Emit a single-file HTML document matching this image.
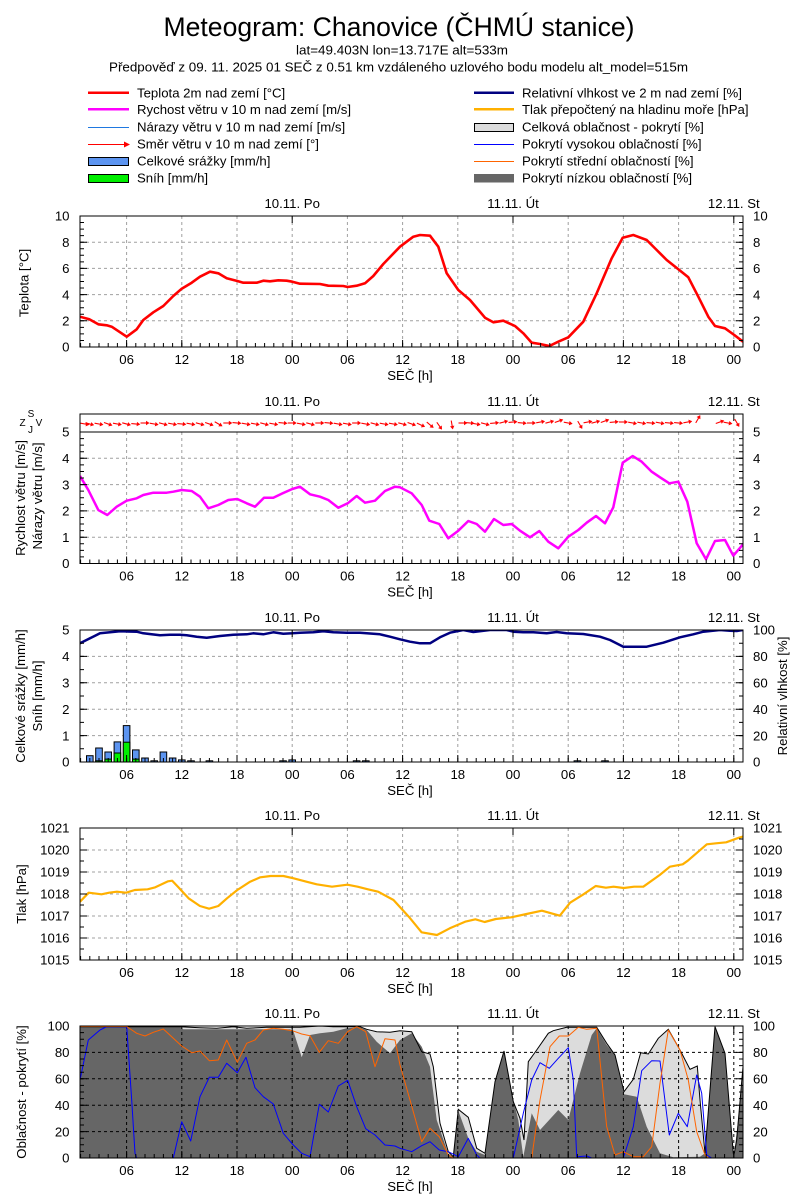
<!DOCTYPE html>
<html><head><meta charset="utf-8"><style>
html,body{margin:0;padding:0;background:#fff;}
svg{display:block;}
text{font-family:"Liberation Sans",Arial,sans-serif;fill:#000;}
</style></head><body>
<svg width="800" height="1200" viewBox="0 0 800 1200" xmlns="http://www.w3.org/2000/svg" font-size="13.2">
<defs>
<clipPath id="c1"><rect x="80" y="216" width="663" height="131"/></clipPath>
<clipPath id="c2"><rect x="80" y="432" width="663" height="131.5"/></clipPath>
<clipPath id="c2s"><rect x="80" y="414" width="663" height="18"/></clipPath>
<clipPath id="c3"><rect x="80" y="630" width="663" height="132"/></clipPath>
<clipPath id="c4"><rect x="80" y="828" width="663" height="132"/></clipPath>
<clipPath id="c5"><rect x="80" y="1026" width="663" height="132"/></clipPath>
<g id="ar"><path d="M-4.5,0H3.5" stroke="#f00" stroke-width="1.1" fill="none"/><path d="M4.5,0L1,-2.2L1,2.2Z" fill="#f00"/></g>
</defs>

<!-- Title -->
<text x="399" y="36" font-size="26.5" text-anchor="middle" textLength="471" lengthAdjust="spacingAndGlyphs">Meteogram: Chanovice (ČHMÚ stanice)</text>
<text x="402" y="54.5" text-anchor="middle" font-size="13.2" textLength="212" lengthAdjust="spacingAndGlyphs">lat=49.403N lon=13.717E alt=533m</text>
<text x="398.5" y="71.5" text-anchor="middle" font-size="13.2" textLength="579" lengthAdjust="spacingAndGlyphs">Předpověď z 09. 11. 2025 01 SEČ z 0.51 km vzdáleného uzlového bodu modelu alt_model=515m</text>

<!-- Legend -->
<line x1="88" y1="92.7" x2="129" y2="92.7" stroke="#f00" stroke-width="2.5"/>
<text x="137" y="97.4">Teplota 2m nad zemí [°C]</text>
<line x1="88" y1="109.3" x2="129" y2="109.3" stroke="#f0f" stroke-width="2.5"/>
<text x="137" y="114">Rychost větru v 10 m nad zemí [m/s]</text>
<line x1="88" y1="127.5" x2="129" y2="127.5" stroke="#1f78e0" stroke-width="1"/>
<text x="137" y="131.7">Nárazy větru v 10 m nad zemí [m/s]</text>
<line x1="88" y1="144.5" x2="126" y2="144.5" stroke="#f00" stroke-width="1"/>
<path d="M130,144.5L124,141.5L124,147.5Z" fill="#f00"/>
<text x="137" y="148.7">Směr větru v 10 m nad zemí [°]</text>
<rect x="88.5" y="157.5" width="40" height="8" fill="#5c94f0" stroke="#000" stroke-width="1"/>
<text x="137" y="165.7">Celkové srážky [mm/h]</text>
<rect x="88.5" y="174.5" width="40" height="8" fill="#00ee00" stroke="#000" stroke-width="1"/>
<text x="137" y="182.4">Sníh [mm/h]</text>

<line x1="474" y1="92.7" x2="514" y2="92.7" stroke="#000080" stroke-width="2.5"/>
<text x="522" y="97.4">Relativní vlhkost ve 2 m nad zemí [%]</text>
<line x1="474" y1="109.3" x2="514" y2="109.3" stroke="#ffb000" stroke-width="2.5"/>
<text x="522" y="114">Tlak přepočtený na hladinu moře [hPa]</text>
<rect x="474.5" y="123.5" width="39" height="8" fill="#dcdcdc" stroke="#000" stroke-width="1"/>
<text x="522" y="131.7">Celková oblačnost - pokrytí [%]</text>
<line x1="474" y1="144.5" x2="514" y2="144.5" stroke="#0000ff" stroke-width="1"/>
<text x="522" y="148.7">Pokrytí vysokou oblačností [%]</text>
<line x1="474" y1="161.5" x2="514" y2="161.5" stroke="#ff6400" stroke-width="1"/>
<text x="522" y="165.7">Pokrytí střední oblačností [%]</text>
<rect x="474" y="174" width="40" height="8.5" fill="#666"/>
<text x="522" y="182.4">Pokrytí nízkou oblačností [%]</text>

<!-- ================= PANEL 1 ================= -->
<g stroke="#a0a0a0" stroke-width="1" stroke-dasharray="3,3" fill="none">
<path d="M126.6 216V347M181.8 216V347M237 216V347M292.2 216V347M347.4 216V347M402.6 216V347M457.8 216V347M513 216V347M568.2 216V347M623.4 216V347M678.6 216V347M733.8 216V347"/>
<path d="M80 320.8H743M80 294.6H743M80 268.4H743M80 242.2H743"/>
</g>
<polyline clip-path="url(#c1)" fill="none" stroke="#f00" stroke-width="2.6" stroke-linejoin="round" points="80,316.7 89.3,319.3 98.3,324.3 106.7,325.3 111.7,326.7 126.7,336.7 136.7,329.3 143.3,320 153.3,312.3 163.3,306 173.3,296 181.7,288.7 191.7,282.7 200,276.7 210,271.7 218.3,273.3 226.7,278.3 237.3,281 243.3,282.7 256.7,282.7 263.3,280.7 270,281.3 278.3,280.3 286.7,280.7 292.3,281.7 300,283.7 320,284 328.3,285.7 343.3,286 347.7,287 356.7,285.7 365,283.3 373.3,276 383.3,264 400,246.7 413.3,236.7 420,235 430,235.7 438.3,246.7 446.7,273.3 458.3,290 470,300 485,317.7 493.3,322.3 503.3,320.7 515,326 523.3,333.3 531.7,342.7 540,344 549.3,346 558.3,341.7 568.3,337.3 583.3,321.7 596.7,293.3 611.7,258.3 622.7,237.7 633.3,235 646.7,240 656.7,250 666.7,260 679.3,270 688.3,277.3 698.3,296.7 708.3,316.7 715,326 725,328.3 734.3,335 743,341.7"/>
<rect x="80" y="216" width="663" height="131" fill="none" stroke="#000" stroke-width="1"/>
<g stroke="#000" fill="none">
<line x1="80.1" y1="345" x2="743" y2="345" stroke-width="4" stroke-dasharray="1 8.2"/>
<line x1="126.1" y1="343.5" x2="743" y2="343.5" stroke-width="7" stroke-dasharray="1 54.2"/>
<path d="M292.2 216v7M513 216v7M733.8 216v7" stroke-width="1"/>
<line x1="82" y1="347.5" x2="82" y2="215" stroke-width="4" stroke-dasharray="1 5.55"/>
<line x1="83.5" y1="347.5" x2="83.5" y2="215" stroke-width="7" stroke-dasharray="1 25.2"/>
<line x1="741" y1="347.5" x2="741" y2="215" stroke-width="4" stroke-dasharray="1 5.55"/>
<line x1="739.5" y1="347.5" x2="739.5" y2="215" stroke-width="7" stroke-dasharray="1 25.2"/>
</g>
<g text-anchor="end">
<text x="69.5" y="351.7">0</text><text x="69.5" y="325.5">2</text><text x="69.5" y="299.3">4</text><text x="69.5" y="273.1">6</text><text x="69.5" y="246.9">8</text><text x="69.5" y="220.7">10</text>
</g>
<g>
<text x="753" y="351.7">0</text><text x="753" y="325.5">2</text><text x="753" y="299.3">4</text><text x="753" y="273.1">6</text><text x="753" y="246.9">8</text><text x="753" y="220.7">10</text>
</g>
<g text-anchor="middle">
<text x="126.6" y="364">06</text><text x="181.8" y="364">12</text><text x="237" y="364">18</text><text x="292.2" y="364">00</text><text x="347.4" y="364">06</text><text x="402.6" y="364">12</text><text x="457.8" y="364">18</text><text x="513" y="364">00</text><text x="568.2" y="364">06</text><text x="623.4" y="364">12</text><text x="678.6" y="364">18</text><text x="733.8" y="364">00</text>
<text x="410" y="380">SEČ [h]</text>
<text x="292.2" y="208">10.11. Po</text><text x="513" y="208">11.11. Út</text><text x="733.8" y="208">12.11. St</text>
<text transform="translate(24,283) rotate(-90)" dominant-baseline="central">Teplota [°C]</text>
</g>

<!-- ================= PANEL 2 ================= -->
<g stroke="#a0a0a0" stroke-width="1" stroke-dasharray="3,3" fill="none">
<path d="M126.6 432V563.5M181.8 432V563.5M237 432V563.5M292.2 432V563.5M347.4 432V563.5M402.6 432V563.5M457.8 432V563.5M513 432V563.5M568.2 432V563.5M623.4 432V563.5M678.6 432V563.5M733.8 432V563.5"/>
<path d="M80 537.2H743M80 510.9H743M80 484.6H743M80 458.3H743"/>
</g>
<polyline clip-path="url(#c2)" fill="none" stroke="#f0f" stroke-width="2.5" stroke-linejoin="round" points="80,476 88.3,490 98.3,510 107.3,515 116.7,506.7 126.7,500.7 136.7,498.3 143.3,495 153.3,492.7 166.7,492.7 173.3,491.7 181.7,490 191.7,491 200,496.7 208.3,508.3 218.3,505 228.3,500 237.3,499 246.7,503.3 255,506.7 264,497.7 273.3,497.7 282.7,493.3 292.3,489 300,486.7 310,494.3 320,496.7 328.3,500 338.3,507.7 347.7,503.3 356.7,496 365,502.7 375,500.7 385,491 395,486.7 400,487.3 411.7,493.3 421.7,505 429.3,520.7 439.3,524 448.3,538.3 458.3,530.7 468.3,521 476.7,524 485,531.7 494,519 503.3,525 511.7,524 520,530.7 530,537.3 539.3,531 548.3,541.7 558.3,548.3 568.3,536.7 578.3,530 586.7,522.7 596,516 605,523.3 613.3,507.3 622.7,462.7 632.7,456 641.7,461.7 651.7,471.7 660,477.3 669.3,483.3 678.3,481.7 687.3,501.7 696.7,543.3 706,559.3 715,541 725,540 733.3,555.7 743.3,544"/>
<!-- wind direction arrows -->
<g clip-path="url(#c2s)">
<use href="#ar" transform="translate(85,424) rotate(10)"/>
<use href="#ar" transform="translate(89.8,424) rotate(15)"/>
<use href="#ar" transform="translate(99,424) rotate(10)"/>
<use href="#ar" transform="translate(108.2,424) rotate(20)"/>
<use href="#ar" transform="translate(117.4,424) rotate(10)"/>
<use href="#ar" transform="translate(126.6,424) rotate(15)"/>
<use href="#ar" transform="translate(135.8,424) rotate(5)"/>
<use href="#ar" transform="translate(145,423) rotate(0)"/>
<use href="#ar" transform="translate(154.2,424) rotate(10)"/>
<use href="#ar" transform="translate(163.4,424) rotate(15)"/>
<use href="#ar" transform="translate(172.6,424) rotate(10)"/>
<use href="#ar" transform="translate(181.8,424) rotate(5)"/>
<use href="#ar" transform="translate(191,424) rotate(10)"/>
<use href="#ar" transform="translate(200.2,424) rotate(15)"/>
<use href="#ar" transform="translate(209.4,424) rotate(20)"/>
<use href="#ar" transform="translate(218.6,424) rotate(30)"/>
<use href="#ar" transform="translate(227.8,423) rotate(0)"/>
<use href="#ar" transform="translate(237,423) rotate(5)"/>
<use href="#ar" transform="translate(246.2,424) rotate(10)"/>
<use href="#ar" transform="translate(255.4,424) rotate(10)"/>
<use href="#ar" transform="translate(264.6,424) rotate(15)"/>
<use href="#ar" transform="translate(273.8,424) rotate(10)"/>
<use href="#ar" transform="translate(283,423) rotate(5)"/>
<use href="#ar" transform="translate(292.2,423) rotate(0)"/>
<use href="#ar" transform="translate(301.4,424) rotate(10)"/>
<use href="#ar" transform="translate(310.6,424) rotate(15)"/>
<use href="#ar" transform="translate(319.8,423) rotate(0)"/>
<use href="#ar" transform="translate(329,423) rotate(5)"/>
<use href="#ar" transform="translate(338.2,424) rotate(10)"/>
<use href="#ar" transform="translate(347.4,424) rotate(10)"/>
<use href="#ar" transform="translate(356.6,423) rotate(0)"/>
<use href="#ar" transform="translate(365.8,424) rotate(10)"/>
<use href="#ar" transform="translate(375,424) rotate(15)"/>
<use href="#ar" transform="translate(384.2,424) rotate(10)"/>
<use href="#ar" transform="translate(393.4,424) rotate(10)"/>
<use href="#ar" transform="translate(402.6,424) rotate(15)"/>
<use href="#ar" transform="translate(411.8,424) rotate(20)"/>
<use href="#ar" transform="translate(421,425) rotate(25)"/>
<use href="#ar" transform="translate(430.2,425) rotate(40)"/>
<use href="#ar" transform="translate(439.4,426) rotate(55)"/>
<use href="#ar" transform="translate(452,425) rotate(80)"/>
<use href="#ar" transform="translate(463,423) rotate(0)"/>
<use href="#ar" transform="translate(470,423) rotate(5)"/>
<use href="#ar" transform="translate(476.2,424) rotate(10)"/>
<use href="#ar" transform="translate(485.4,424) rotate(15)"/>
<use href="#ar" transform="translate(494.6,423) rotate(-5)"/>
<use href="#ar" transform="translate(503.8,422) rotate(-15)"/>
<use href="#ar" transform="translate(513,422) rotate(-5)"/>
<use href="#ar" transform="translate(522.2,423) rotate(5)"/>
<use href="#ar" transform="translate(531.4,423) rotate(0)"/>
<use href="#ar" transform="translate(540.6,422) rotate(-10)"/>
<use href="#ar" transform="translate(549.8,422) rotate(-15)"/>
<use href="#ar" transform="translate(559,421) rotate(-20)"/>
<use href="#ar" transform="translate(568.2,423) rotate(10)"/>
<use href="#ar" transform="translate(580,425) rotate(60)"/>
<use href="#ar" transform="translate(588,422) rotate(-10)"/>
<use href="#ar" transform="translate(595.8,422) rotate(-15)"/>
<use href="#ar" transform="translate(605,421) rotate(-20)"/>
<use href="#ar" transform="translate(614.2,422) rotate(-5)"/>
<use href="#ar" transform="translate(623.4,422) rotate(0)"/>
<use href="#ar" transform="translate(632.6,423) rotate(10)"/>
<use href="#ar" transform="translate(641.8,423) rotate(10)"/>
<use href="#ar" transform="translate(651,423) rotate(5)"/>
<use href="#ar" transform="translate(660.2,423) rotate(10)"/>
<use href="#ar" transform="translate(669.4,423) rotate(5)"/>
<use href="#ar" transform="translate(678.6,423) rotate(5)"/>
<use href="#ar" transform="translate(687.8,422) rotate(-10)"/>
<use href="#ar" transform="translate(698,419) rotate(-60)"/>
<use href="#ar" transform="translate(720,422) rotate(-20)"/>
<use href="#ar" transform="translate(728,423) rotate(10)"/>
<use href="#ar" transform="translate(737,423) rotate(60)"/>
</g>
<rect x="80" y="414" width="663" height="149.5" fill="none" stroke="#000" stroke-width="1"/>
<line x1="80" y1="432" x2="743" y2="432" stroke="#000" stroke-width="1"/>
<g stroke="#000" fill="none">
<line x1="80.1" y1="561.5" x2="743" y2="561.5" stroke-width="4" stroke-dasharray="1 8.2"/>
<line x1="126.1" y1="560" x2="743" y2="560" stroke-width="7" stroke-dasharray="1 54.2"/>
<path d="M292.2 414v7M513 414v7M733.8 414v7" stroke-width="1"/>
<line x1="82" y1="564" x2="82" y2="432" stroke-width="4" stroke-dasharray="1 5.575"/>
<line x1="83.5" y1="564" x2="83.5" y2="432" stroke-width="7" stroke-dasharray="1 25.3"/>
<line x1="741" y1="564" x2="741" y2="432" stroke-width="4" stroke-dasharray="1 5.575"/>
<line x1="739.5" y1="564" x2="739.5" y2="432" stroke-width="7" stroke-dasharray="1 25.3"/>
</g>
<g text-anchor="end">
<text x="69.5" y="568.2">0</text><text x="69.5" y="541.9">1</text><text x="69.5" y="515.6">2</text><text x="69.5" y="489.3">3</text><text x="69.5" y="463">4</text><text x="69.5" y="436.7">5</text>
</g>
<g>
<text x="753" y="568.2">0</text><text x="753" y="541.9">1</text><text x="753" y="515.6">2</text><text x="753" y="489.3">3</text><text x="753" y="463">4</text><text x="753" y="436.7">5</text>
</g>
<g font-size="10" text-anchor="middle">
<text x="31" y="417">S</text><text x="22.5" y="426">Z</text><text x="39" y="426">V</text><text x="30.5" y="433">J</text>
</g>
<g text-anchor="middle">
<text x="126.6" y="580.5">06</text><text x="181.8" y="580.5">12</text><text x="237" y="580.5">18</text><text x="292.2" y="580.5">00</text><text x="347.4" y="580.5">06</text><text x="402.6" y="580.5">12</text><text x="457.8" y="580.5">18</text><text x="513" y="580.5">00</text><text x="568.2" y="580.5">06</text><text x="623.4" y="580.5">12</text><text x="678.6" y="580.5">18</text><text x="733.8" y="580.5">00</text>
<text x="410" y="596.5">SEČ [h]</text>
<text x="292.2" y="406">10.11. Po</text><text x="513" y="406">11.11. Út</text><text x="733.8" y="406">12.11. St</text>
<text transform="translate(20.7,498) rotate(-90)" dominant-baseline="central">Rychlost větru [m/s]</text>
<text transform="translate(37.3,496) rotate(-90)" dominant-baseline="central">Nárazy větru [m/s]</text>
</g>

<!-- ================= PANEL 3 ================= -->
<g stroke="#a0a0a0" stroke-width="1" stroke-dasharray="3,3" fill="none">
<path d="M126.6 630V762M181.8 630V762M237 630V762M292.2 630V762M347.4 630V762M402.6 630V762M457.8 630V762M513 630V762M568.2 630V762M623.4 630V762M678.6 630V762M733.8 630V762"/>
<path d="M80 735.6H743M80 709.2H743M80 682.8H743M80 656.4H743"/>
</g>
<g stroke="#000" stroke-width="1">
<rect x="86.5" y="755.7" width="6.6" height="6.3" fill="#5c94f0"/>
<rect x="95.7" y="748" width="6.6" height="14" fill="#5c94f0"/>
<rect x="104.9" y="752" width="6.6" height="10" fill="#5c94f0"/>
<rect x="114.1" y="741.9" width="6.6" height="20.1" fill="#5c94f0"/>
<rect x="123.3" y="725.6" width="6.6" height="36.4" fill="#5c94f0"/>
<rect x="132.5" y="749.9" width="6.6" height="12.1" fill="#5c94f0"/>
<rect x="141.7" y="758" width="6.6" height="4" fill="#5c94f0"/>
<rect x="150.9" y="760.8" width="6.6" height="1.2" fill="#5c94f0"/>
<rect x="160.1" y="752" width="6.6" height="10" fill="#5c94f0"/>
<rect x="169.3" y="758" width="6.6" height="4" fill="#5c94f0"/>
<rect x="178.5" y="759.9" width="6.6" height="2.1" fill="#5c94f0"/>
<rect x="187.7" y="760.8" width="6.6" height="1.2" fill="#5c94f0"/>
<rect x="206.1" y="760.8" width="6.6" height="1.2" fill="#5c94f0"/>
<rect x="279.7" y="760.8" width="6.6" height="1.2" fill="#5c94f0"/>
<rect x="288.9" y="759.9" width="6.6" height="2.1" fill="#5c94f0"/>
<rect x="353.3" y="760.8" width="6.6" height="1.2" fill="#5c94f0"/>
<rect x="362.5" y="760.8" width="6.6" height="1.2" fill="#5c94f0"/>
<rect x="574.1" y="760.8" width="6.6" height="1.2" fill="#5c94f0"/>
<rect x="601.7" y="760.8" width="6.6" height="1.2" fill="#5c94f0"/>
<rect x="95.7" y="760.8" width="6.6" height="1.2" fill="#00ee00"/>
<rect x="104.9" y="759.1" width="6.6" height="2.9" fill="#00ee00"/>
<rect x="114.1" y="753" width="6.6" height="9" fill="#00ee00"/>
<rect x="123.3" y="742.2" width="6.6" height="19.8" fill="#00ee00"/>
<rect x="132.5" y="759.1" width="6.6" height="2.9" fill="#00ee00"/>
</g>
<polyline clip-path="url(#c3)" fill="none" stroke="#000080" stroke-width="2.5" stroke-linejoin="round" points="80,643.3 90,638.3 100,633.3 110,632.3 120,631.3 136.7,631.7 143.3,633.3 160,635.3 170,634.7 180,634.7 186.7,635.3 196.7,636.7 206.7,637.7 220,636 233.3,634.7 246.7,634.3 253.3,633.3 263.3,634.3 273.3,632.3 283.3,633.7 292.3,633.3 300,632.7 313.3,632.3 323.3,631.3 333.3,632.3 346.7,632.7 360,632.7 366.7,633.3 380,634.3 390,636.7 400,639.3 410,641.7 420,643.3 430,643.3 440,637.3 450,632.7 463.3,630 473.3,632 490,630 506.7,630 513.3,631.7 523.3,632.3 533.3,632.3 546.7,633.3 556.7,632 566.7,633.3 583.3,634 600,636.7 610,640 623.3,646.7 646.7,646.7 663.3,642.7 680,637.3 693.3,634.3 703.3,631.7 720,630 730,630.7 736.7,631 743,630"/>
<rect x="80" y="630" width="663" height="132" fill="none" stroke="#000" stroke-width="1"/>
<g stroke="#000" fill="none">
<line x1="80.1" y1="760" x2="743" y2="760" stroke-width="4" stroke-dasharray="1 8.2"/>
<line x1="126.1" y1="758.5" x2="743" y2="758.5" stroke-width="7" stroke-dasharray="1 54.2"/>
<path d="M292.2 630v7M513 630v7M733.8 630v7" stroke-width="1"/>
<line x1="82" y1="762.5" x2="82" y2="629" stroke-width="4" stroke-dasharray="1 12.2"/>
<line x1="83.5" y1="762.5" x2="83.5" y2="629" stroke-width="7" stroke-dasharray="1 25.4"/>
<line x1="741" y1="762.5" x2="741" y2="629" stroke-width="4" stroke-dasharray="1 12.2"/>
<line x1="739.5" y1="762.5" x2="739.5" y2="629" stroke-width="7" stroke-dasharray="1 25.4"/>
</g>
<g text-anchor="end">
<text x="69.5" y="766.7">0</text><text x="69.5" y="740.3">1</text><text x="69.5" y="713.9">2</text><text x="69.5" y="687.5">3</text><text x="69.5" y="661.1">4</text><text x="69.5" y="634.7">5</text>
</g>
<g>
<text x="753" y="766.7">0</text><text x="753" y="740.3">20</text><text x="753" y="713.9">40</text><text x="753" y="687.5">60</text><text x="753" y="661.1">80</text><text x="753" y="634.7">100</text>
</g>
<g text-anchor="middle">
<text x="126.6" y="779">06</text><text x="181.8" y="779">12</text><text x="237" y="779">18</text><text x="292.2" y="779">00</text><text x="347.4" y="779">06</text><text x="402.6" y="779">12</text><text x="457.8" y="779">18</text><text x="513" y="779">00</text><text x="568.2" y="779">06</text><text x="623.4" y="779">12</text><text x="678.6" y="779">18</text><text x="733.8" y="779">00</text>
<text x="410" y="795">SEČ [h]</text>
<text x="292.2" y="622">10.11. Po</text><text x="513" y="622">11.11. Út</text><text x="733.8" y="622">12.11. St</text>
<text transform="translate(20.7,696) rotate(-90)" dominant-baseline="central">Celkové srážky [mm/h]</text>
<text transform="translate(37.3,696) rotate(-90)" dominant-baseline="central">Sníh [mm/h]</text>
<text transform="translate(782.7,696) rotate(-90)" dominant-baseline="central">Relativní vlhkost [%]</text>
</g>

<!-- ================= PANEL 4 ================= -->
<g stroke="#a0a0a0" stroke-width="1" stroke-dasharray="3,3" fill="none">
<path d="M126.6 828V960M181.8 828V960M237 828V960M292.2 828V960M347.4 828V960M402.6 828V960M457.8 828V960M513 828V960M568.2 828V960M623.4 828V960M678.6 828V960M733.8 828V960"/>
<path d="M80 938H743M80 916H743M80 894H743M80 872H743M80 850H743"/>
</g>
<polyline clip-path="url(#c4)" fill="none" stroke="#ffb000" stroke-width="2.2" stroke-linejoin="round" points="80,901.7 88.7,892.7 101.5,894.3 109.2,892.7 116.9,891.7 126.1,892.7 134.8,890 147.6,889.3 155.3,887.3 168.1,881.3 172.2,880.7 178.4,887.3 188.6,898.3 199.9,906 209.1,908.7 218.3,906 227,898.3 237.3,890 250.1,881.7 260.3,877.3 270.6,876 283.4,876 293.6,878.3 306.4,881.7 316.7,884.3 332,886.7 347.4,884.7 357.6,886.7 367.9,889.3 378.1,891.7 393.5,900 408.8,916.7 421.6,932.3 437,935 449.8,928.3 465.1,921.7 475.4,919.3 484.6,922 495.8,919 511.2,917.3 526.5,914 541.9,910.7 559.8,915.7 570.1,902.7 582.9,894.7 595.7,886 605.9,887.7 613.6,886.7 623.8,888 634.1,886.7 643.3,886.7 659.7,875 669.9,866.7 682.7,864.3 687.8,860.7 706.8,844.3 716,843.3 726.2,842.3 739,837.7 743,836.5"/>
<rect x="80" y="828" width="663" height="132" fill="none" stroke="#000" stroke-width="1"/>
<g stroke="#000" fill="none">
<line x1="80.1" y1="958" x2="743" y2="958" stroke-width="4" stroke-dasharray="1 8.2"/>
<line x1="126.1" y1="956.5" x2="743" y2="956.5" stroke-width="7" stroke-dasharray="1 54.2"/>
<path d="M292.2 828v7M513 828v7M733.8 828v7" stroke-width="1"/>
<line x1="82" y1="960.5" x2="82" y2="827" stroke-width="4" stroke-dasharray="1 10"/>
<line x1="83.5" y1="960.5" x2="83.5" y2="827" stroke-width="7" stroke-dasharray="1 21"/>
<line x1="741" y1="960.5" x2="741" y2="827" stroke-width="4" stroke-dasharray="1 10"/>
<line x1="739.5" y1="960.5" x2="739.5" y2="827" stroke-width="7" stroke-dasharray="1 21"/>
</g>
<g text-anchor="end">
<text x="69.5" y="964.7">1015</text><text x="69.5" y="942.7">1016</text><text x="69.5" y="920.7">1017</text><text x="69.5" y="898.7">1018</text><text x="69.5" y="876.7">1019</text><text x="69.5" y="854.7">1020</text><text x="69.5" y="832.7">1021</text>
</g>
<g>
<text x="753" y="964.7">1015</text><text x="753" y="942.7">1016</text><text x="753" y="920.7">1017</text><text x="753" y="898.7">1018</text><text x="753" y="876.7">1019</text><text x="753" y="854.7">1020</text><text x="753" y="832.7">1021</text>
</g>
<g text-anchor="middle">
<text x="126.6" y="977">06</text><text x="181.8" y="977">12</text><text x="237" y="977">18</text><text x="292.2" y="977">00</text><text x="347.4" y="977">06</text><text x="402.6" y="977">12</text><text x="457.8" y="977">18</text><text x="513" y="977">00</text><text x="568.2" y="977">06</text><text x="623.4" y="977">12</text><text x="678.6" y="977">18</text><text x="733.8" y="977">00</text>
<text x="410" y="993">SEČ [h]</text>
<text x="292.2" y="820">10.11. Po</text><text x="513" y="820">11.11. Út</text><text x="733.8" y="820">12.11. St</text>
<text transform="translate(21.5,894) rotate(-90)" dominant-baseline="central">Tlak [hPa]</text>
</g>

<!-- ================= PANEL 5 ================= -->
<g clip-path="url(#c5)">
<polygon fill="#dcdcdc" points="80,1026.7 180,1026.7 200,1027.7 216.7,1028.3 233.3,1026.7 246.7,1028.3 266.7,1027.3 292.3,1027.3 300,1027.3 320,1026 333.3,1026.7 360,1026.7 366.7,1029.3 376.7,1031.7 390,1032.3 400,1030.7 411.7,1031.7 421.7,1051.7 430,1054 433.3,1066.7 440,1123.3 448.3,1151.7 453.3,1156.7 458.3,1109.3 468.3,1117.3 476.7,1148.3 485,1153.3 495,1081.7 504,1051 513.3,1101.7 520,1118.3 524,1140 528.3,1061.7 536.7,1050 548.3,1033.3 553.3,1030.7 566.7,1027.3 596.7,1027.3 606.7,1043.3 615,1055 624,1091.7 633.3,1079.3 640.7,1052.7 648.3,1054 658.3,1038.3 668.3,1029.3 680,1050 690,1069.3 697.3,1066 700,1100 705,1153.3 715,1026.7 725,1053.3 733.3,1153.3 734.3,1153.3 736.7,1140 743,1066.7 743,1158 80,1158"/>
<polygon fill="#666666" points="80,1026.7 180,1026.7 183.3,1029.3 290,1029.3 293.3,1030.7 301.7,1057.3 310,1035 320,1033.3 333.3,1031.7 346.7,1028.3 360,1027.3 366.7,1030 376.7,1041.7 390,1053.3 400,1040 411.7,1033.3 421.7,1046.7 430,1066.7 436.7,1120 448.3,1154 453.3,1156.7 458.3,1110.7 468.3,1138.3 476.7,1151.7 485,1155 495,1083.3 504,1051 513.3,1100 518.3,1120 523.3,1156.7 531.7,1113.3 540,1130 558.3,1110 568.3,1120 580,1073.3 591.7,1035 596.7,1028.3 606.7,1045 615,1055 624,1094.3 636.7,1096.7 646.7,1126.7 660,1153.3 673.3,1157.3 700,1156.7 705,1153.3 715,1026.7 725,1053.3 733.3,1153.3 734.3,1153.3 740,1103.3 743,1076.7 743,1158 80,1158"/>
<polyline fill="none" stroke="#000" stroke-width="1" points="80,1026.7 180,1026.7 200,1027.7 216.7,1028.3 233.3,1026.7 246.7,1028.3 266.7,1027.3 292.3,1027.3 300,1027.3 320,1026 333.3,1026.7 360,1026.7 366.7,1029.3 376.7,1031.7 390,1032.3 400,1030.7 411.7,1031.7 421.7,1051.7 430,1054 433.3,1066.7 440,1123.3 448.3,1151.7 453.3,1156.7 458.3,1109.3 468.3,1117.3 476.7,1148.3 485,1153.3 495,1081.7 504,1051 513.3,1101.7 520,1118.3 524,1140 528.3,1061.7 536.7,1050 548.3,1033.3 553.3,1030.7 566.7,1027.3 596.7,1027.3 606.7,1043.3 615,1055 624,1091.7 633.3,1079.3 640.7,1052.7 648.3,1054 658.3,1038.3 668.3,1029.3 680,1050 690,1069.3 697.3,1066 700,1100 705,1153.3 715,1026.7 725,1053.3 733.3,1153.3 734.3,1153.3 736.7,1140 743,1066.7"/>
<g stroke="#000" stroke-width="1" stroke-dasharray="3,3" fill="none">
<path d="M126.6 1026V1158M181.8 1026V1158M237 1026V1158M292.2 1026V1158M347.4 1026V1158M402.6 1026V1158M457.8 1026V1158M513 1026V1158M568.2 1026V1158M623.4 1026V1158M678.6 1026V1158M733.8 1026V1158"/>
<path d="M80 1131.6H743M80 1105.2H743M80 1078.8H743M80 1052.4H743"/>
</g>
<g fill="none" stroke="#0000ff" stroke-width="1" stroke-linejoin="round">
<polyline points="80,1080 88.3,1040 100,1030 106.7,1026.7 126.7,1026.7 131.7,1100 135,1153.3 136.7,1158"/>
<polyline points="173.3,1158 181.7,1121.7 190.7,1141 200,1096.7 209.3,1077.3 218.3,1077.3 226.7,1063.3 237.3,1072.7 246,1057.3 255,1087.7 263.3,1096.7 273.3,1104 283.3,1133.3 292.3,1144 301.7,1153.3 310,1156.7 319.3,1104.3 328.3,1112 338.3,1086 347.7,1080.3 356.7,1106.7 365.7,1128.7 375,1135 385,1145 395,1146 400,1148.3 411.7,1151.7 421.7,1145.7 430,1141.7 439.3,1150 448.3,1151.7 458.3,1156.7 468.3,1138.3 476.7,1155 480,1158"/>
<polyline points="513.3,1158 523.3,1113.3 531.7,1080 540,1062.7 549.3,1068.3 558.3,1058.3 568.3,1047.7 573.3,1080 576.7,1156.7 586.7,1156 591.7,1158"/>
<polyline points="623.3,1158 633.3,1126.7 641.7,1070.7 651.7,1060.7 660,1061 669.3,1135 678.3,1113.3 687.3,1126.7 696.7,1075 701.7,1093.3 706.7,1155 711.7,1158"/>
</g>
<g fill="none" stroke="#ff6400" stroke-width="1" stroke-linejoin="round">
<polyline points="80,1026.5 126.7,1026.5 136.7,1033.3 145,1036 153.3,1032.3 163.3,1029 173.3,1038.3 181.7,1046 191.7,1052.7 200,1051 209.3,1060.7 218.3,1060 226.7,1040 237.3,1062.3 246.7,1043.3 255,1040 263.3,1030 273.3,1028.3 283.3,1029.3 292.3,1030.7 301.7,1034 310,1035.7 319.3,1052.3 328.3,1040.7 338.3,1043.3 347.7,1031.7 356.7,1026.7 365.7,1031.7 375,1066.7 385,1038.7 395,1040 400,1065 410,1100 421.7,1141.7 430,1128.3 439.3,1136.7 448.3,1155 453.3,1158"/>
<polyline points="531.7,1158 540,1100 550,1046.7 559.3,1036 568.3,1036 578.3,1027.3 586.7,1029.3 596.7,1028.3 606.7,1126.7 615,1155 623.3,1151.7 633.3,1156.7 643.3,1156.7 651.7,1146.7 660,1083.3 668.3,1030 680,1050 688.3,1080 696.7,1131.7 705,1155 708.3,1158"/>
</g>
</g>
<rect x="80" y="1026" width="663" height="132" fill="none" stroke="#000" stroke-width="1"/>
<g stroke="#000" fill="none">
<line x1="80.1" y1="1156" x2="743" y2="1156" stroke-width="4" stroke-dasharray="1 8.2"/>
<line x1="126.1" y1="1154.5" x2="743" y2="1154.5" stroke-width="7" stroke-dasharray="1 54.2"/>
<path d="M292.2 1026v7M513 1026v7M733.8 1026v7" stroke-width="1"/>
<line x1="82" y1="1158.5" x2="82" y2="1025" stroke-width="4" stroke-dasharray="1 5.6"/>
<line x1="83.5" y1="1158.5" x2="83.5" y2="1025" stroke-width="7" stroke-dasharray="1 25.4"/>
<line x1="741" y1="1158.5" x2="741" y2="1025" stroke-width="4" stroke-dasharray="1 5.6"/>
<line x1="739.5" y1="1158.5" x2="739.5" y2="1025" stroke-width="7" stroke-dasharray="1 25.4"/>
</g>
<g text-anchor="end">
<text x="69.5" y="1162.7">0</text><text x="69.5" y="1136.3">20</text><text x="69.5" y="1109.9">40</text><text x="69.5" y="1083.5">60</text><text x="69.5" y="1057.1">80</text><text x="69.5" y="1030.7">100</text>
</g>
<g>
<text x="753" y="1162.7">0</text><text x="753" y="1136.3">20</text><text x="753" y="1109.9">40</text><text x="753" y="1083.5">60</text><text x="753" y="1057.1">80</text><text x="753" y="1030.7">100</text>
</g>
<g text-anchor="middle">
<text x="126.6" y="1175">06</text><text x="181.8" y="1175">12</text><text x="237" y="1175">18</text><text x="292.2" y="1175">00</text><text x="347.4" y="1175">06</text><text x="402.6" y="1175">12</text><text x="457.8" y="1175">18</text><text x="513" y="1175">00</text><text x="568.2" y="1175">06</text><text x="623.4" y="1175">12</text><text x="678.6" y="1175">18</text><text x="733.8" y="1175">00</text>
<text x="410" y="1191">SEČ [h]</text>
<text x="292.2" y="1018">10.11. Po</text><text x="513" y="1018">11.11. Út</text><text x="733.8" y="1018">12.11. St</text>
<text transform="translate(21.7,1092) rotate(-90)" dominant-baseline="central">Oblačnost - pokrytí [%]</text>
</g>
</svg>
</body></html>
